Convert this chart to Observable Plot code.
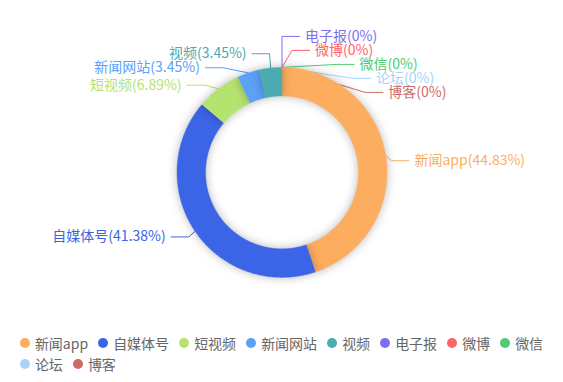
<!DOCTYPE html>
<html><head><meta charset="utf-8">
<script src="https://cdn.jsdelivr.net/npm/d3@7"></script>
<script src="https://cdn.jsdelivr.net/npm/@observablehq/plot@0.6"></script>
<style>
html,body{margin:0;padding:0;background:#fff;overflow:hidden;}
#chart{position:relative;width:563px;height:382px;overflow:hidden;font-family:"Noto Sans CJK SC","Noto Sans",sans-serif;}
#legend{position:absolute;left:0;top:332px;width:563px;height:50px;}
.li{position:absolute;display:flex;align-items:center;height:21.6px;font-size:14px;color:#666;white-space:nowrap;line-height:1;}
.li i{display:inline-block;width:10px;height:10px;border-radius:50%;margin-right:5px;flex:none;}
</style></head><body><div id="chart"><div id="legend"></div></div>
<script>
// ---- data ----
const categories = ["新闻app","自媒体号","短视频","新闻网站","视频","电子报","微博","微信","论坛","博客"];
const counts = [13, 12, 2, 1, 1, 0, 0, 0, 0, 0];
const percents = ["44.83%","41.38%","6.89%","3.45%","3.45%","0%","0%","0%","0%","0%"];
const colors = ["#FDAD5F","#3B65E6","#B5E36F","#5CA0F7","#4BABB1","#7C6EF5","#FE6464","#4ECB73","#A8D3FB","#CB6C68"];

// ---- layout constants ----
const W = 563, H = 332, FULLH = 382;
const cx = 281.5, cy = 171.9, R = 105, R0 = 76.4;
const len1 = 10, len2 = 18, labelDist = 5, labelH = 14;
const viewTop = -cy, viewBottom = FULLH - cy;

const arcs = d3.pie().sort(null).value(d => d)(counts);

// slice polygons (relative to centre)
const slicePts = [];
arcs.forEach((a, i) => {
  if (!(a.value > 0)) return;
  const name = categories[i];
  const n = Math.max(2, Math.ceil((a.endAngle - a.startAngle) / (Math.PI / 360)));
  for (let k = 0; k <= n; k++) {
    const t = a.startAngle + (a.endAngle - a.startAngle) * k / n;
    slicePts.push({name, x: R * Math.sin(t), y: -R * Math.cos(t)});
  }
  for (let k = n; k >= 0; k--) {
    const t = a.startAngle + (a.endAngle - a.startAngle) * k / n;
    slicePts.push({name, x: R0 * Math.sin(t), y: -R0 * Math.cos(t)});
  }
});

// label layout (echarts-style outer labels)
const labels = arcs.map((a, i) => {
  const mid = (a.startAngle + a.endAngle) / 2;
  const dx = Math.sin(mid), dy = -Math.cos(mid);
  const left = dx < -1e-9;
  const dir = left ? -1 : 1;
  const x1 = R * dx, y1 = R * dy;
  const x2 = x1 + dx * len1, y2 = y1 + dy * len1;
  const x3 = x2 + dir * len2;
  return {name: categories[i], text: `${categories[i]}(${percents[i]})`, left, dir, x1, y1, x: x3 + dir * labelDist, y: y2};
});

function adjustSide(list, dir) {
  list.sort((a, b) => a.y - b.y);
  const n = list.length;
  function shiftUp(end, delta) {
    for (let j = end; j >= 0; j--) {
      if (list[j].y - delta < viewTop) break;
      list[j].y -= delta;
      if (j > 0 && list[j].y > list[j - 1].y + labelH) break;
    }
  }
  function shiftDown(start, end, delta) {
    for (let j = start; j < end; j++) {
      if (list[j].y + delta > viewBottom) break;
      list[j].y += delta;
      if (j > start && j + 1 < end && list[j + 1].y > list[j].y + labelH) {
        shiftUp(j, delta / 2);
        return;
      }
    }
    shiftUp(end - 1, delta / 2);
  }
  let lastY = viewTop;
  for (let i = 0; i < n; i++) {
    const delta = list[i].y - lastY;
    if (delta < 0) shiftDown(i, n, -delta);
    lastY = list[i].y + labelH;
  }
  if (viewBottom - lastY < 0) shiftUp(n - 1, lastY - viewBottom);
  const up = list.filter(d => d.y < 0), down = list.filter(d => d.y >= 0);
  function changeX(sub, isDown) {
    let last = isDown ? Infinity : 0;
    for (const it of sub) {
      const dY = Math.abs(it.y);
      let dX = dY < R + len1 ? Math.sqrt((R + len1 + len2) ** 2 - dY * dY) : Math.abs(it.x);
      if (isDown && dX >= last) dX = last - 10;
      if (!isDown && dX <= last) dX = last + 10;
      it.x = dX * dir;
      last = dX;
    }
  }
  changeX(up, false);
  changeX(down, true);
}
adjustSide(labels.filter(d => !d.left), 1);
adjustSide(labels.filter(d => d.left), -1);

const leaderPts = [];
labels.forEach(d => {
  const ex = d.x - d.dir * labelDist;
  const bx = ex - d.dir * len2;
  leaderPts.push({name: d.name, x: d.x1, y: d.y1});
  leaderPts.push({name: d.name, x: bx, y: d.y});
  leaderPts.push({name: d.name, x: ex, y: d.y});
});

const FONT = '"Noto Sans CJK SC","Noto Sans",sans-serif';
const svg = Plot.plot({
  width: W, height: H, margin: 0,
  x: {domain: [-cx, W - cx], range: [0, W], axis: null},
  y: {domain: [-cy, H - cy], range: [0, H], axis: null},
  color: {domain: categories, range: colors},
  style: {fontFamily: FONT, background: "white", overflow: "visible"},
  marks: [
    Plot.line(leaderPts, {x: "x", y: "y", z: "name", stroke: "name", strokeWidth: 1, strokeLinejoin: "miter", strokeLinecap: "butt"}),
    Plot.line(slicePts, {x: "x", y: "y", z: "name", fill: "name", stroke: "name", strokeWidth: 0.4, strokeLinejoin: "miter"}),
    Plot.text(labels.filter(d => !d.left), {x: "x", y: "y", text: "text", fill: "name", textAnchor: "start", fontSize: 14, fontFamily: FONT}),
    Plot.text(labels.filter(d => d.left), {x: "x", y: "y", text: "text", fill: "name", textAnchor: "end", fontSize: 14, fontFamily: FONT})
  ]
});

const ns = "http://www.w3.org/2000/svg";
const defs = document.createElementNS(ns, "defs");
defs.innerHTML = `<filter id="sliceShadow" filterUnits="userSpaceOnUse" x="0" y="0" width="${W}" height="${H}" color-interpolation-filters="sRGB"><feDropShadow dx="0" dy="0" stdDeviation="5" flood-color="#000" flood-opacity="0.28"/></filter>`;
svg.prepend(defs);
const lineGroups = svg.querySelectorAll('g[aria-label="line"]');
if (lineGroups[1]) lineGroups[1].querySelectorAll("path").forEach(p => p.setAttribute("filter", "url(#sliceShadow)"));
svg.style.position = "absolute";
svg.style.left = "0"; svg.style.top = "0";
document.getElementById("chart").prepend(svg);

// ---- legend ----
const legend = document.getElementById("legend");
const els = categories.map((c, i) => {
  const el = document.createElement("div");
  el.className = "li";
  el.innerHTML = `<i style="background:${colors[i]}"></i><span>${c}</span>`;
  legend.appendChild(el);
  return el;
});
const gap = 10, maxW = W - 10, rowH = 21.6;
const rows = [[]];
let rw = 0;
els.forEach(el => {
  const w = el.getBoundingClientRect().width;
  const cur = rows[rows.length - 1];
  const add = (cur.length ? gap : 0) + w;
  if (cur.length && rw + add > maxW) { rows.push([{el, w}]); rw = w; }
  else { cur.push({el, w}); rw += add; }
});
const rowWidths = rows.map(r => r.reduce((s, d, k) => s + d.w + (k ? gap : 0), 0));
const boxW = Math.max(...rowWidths);
const left0 = (W - boxW) / 2;
rows.forEach((r, ri) => {
  let x = left0;
  r.forEach(d => {
    d.el.style.left = x + "px";
    d.el.style.top = (ri * rowH) + "px";
    x += d.w + gap;
  });
});
</script></body></html>
